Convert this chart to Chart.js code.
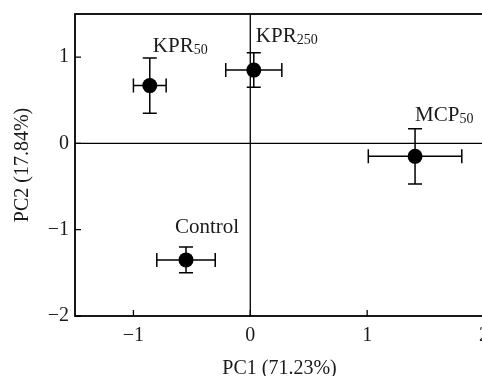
<!DOCTYPE html>
<html>
<head>
<meta charset="utf-8">
<script src="https://cdn.jsdelivr.net/npm/chart.js@4/dist/chart.umd.min.js"></script>
<style>
html,body{margin:0;padding:0;background:#fff;overflow:hidden;}
#wrap{width:482px;height:376px;overflow:hidden;position:relative;}
canvas{display:block;}
</style>
</head>
<body>
<div id="wrap"><canvas id="c" width="500" height="376" style="width:500px;height:376px"></canvas></div>
<script>
// ---- data ----
const groupNames = ['KPR', 'KPR', 'MCP', 'Control'];
const groupSubs  = ['50', '250', '50', ''];
const pc1    = [-0.86, 0.03, 1.41, -0.55];
const pc2    = [0.67, 0.85, -0.15, -1.35];
const pc1Err = [0.14, 0.24, 0.40, 0.25];
const pc2Err = [0.32, 0.20, 0.32, 0.15];
const xTicks = [-1, 0, 1, 2];
const yTicks = [-2, -1, 0, 1];
const xTitle = 'PC1 (71.23%)';
const yTitle = 'PC2 (17.84%)';

// label offsets (px) relative to point: [dx, dy of baseline]
const labelOffsets = [[3, -34], [2, -28], [0, -35], [-11, -27]];

const FONT = "'Liberation Serif', 'Times New Roman', serif";
const TEXT = '#1a1a1a';

const points = pc1.map((x, i) => ({x: x, y: pc2[i]}));

const framePlugin = {
  id: 'frame',
  beforeDatasetsDraw(chart) {
    const {ctx, chartArea: a, scales: {x, y}} = chart;
    ctx.save();
    ctx.strokeStyle = '#000';
    ctx.lineWidth = 1.3;
    const x0 = x.getPixelForValue(0), y0 = y.getPixelForValue(0);
    ctx.beginPath();
    ctx.moveTo(x0, a.top); ctx.lineTo(x0, a.bottom);
    ctx.moveTo(a.left, y0); ctx.lineTo(a.right, y0);
    ctx.stroke();
    ctx.lineWidth = 1.8;
    ctx.strokeRect(a.left, a.top, a.right - a.left, a.bottom - a.top);
    ctx.lineWidth = 1.3;
    ctx.beginPath();
    xTicks.forEach(v => { const p = x.getPixelForValue(v); ctx.moveTo(p, a.bottom); ctx.lineTo(p, a.bottom - 6); });
    yTicks.forEach(v => { const p = y.getPixelForValue(v); ctx.moveTo(a.left, p); ctx.lineTo(a.left + 6, p); });
    ctx.stroke();
    ctx.lineWidth = 1.5;
    const cap = 7;
    ctx.beginPath();
    pc1.forEach((v, i) => {
      const px = x.getPixelForValue(v), py = y.getPixelForValue(pc2[i]);
      const xl = x.getPixelForValue(v - pc1Err[i]), xr = x.getPixelForValue(v + pc1Err[i]);
      const yt = y.getPixelForValue(pc2[i] + pc2Err[i]), yb = y.getPixelForValue(pc2[i] - pc2Err[i]);
      ctx.moveTo(xl, py); ctx.lineTo(xr, py);
      ctx.moveTo(xl, py - cap); ctx.lineTo(xl, py + cap);
      ctx.moveTo(xr, py - cap); ctx.lineTo(xr, py + cap);
      ctx.moveTo(px, yt); ctx.lineTo(px, yb);
      ctx.moveTo(px - cap, yt); ctx.lineTo(px + cap, yt);
      ctx.moveTo(px - cap, yb); ctx.lineTo(px + cap, yb);
    });
    ctx.stroke();
    ctx.restore();
  },
  afterDatasetsDraw(chart) {
    const {ctx, scales: {x, y}} = chart;
    ctx.save();
    ctx.fillStyle = TEXT;
    ctx.textBaseline = 'alphabetic';
    ctx.textAlign = 'left';
    groupNames.forEach((name, i) => {
      const px = x.getPixelForValue(pc1[i]) + labelOffsets[i][0];
      const py = y.getPixelForValue(pc2[i]) + labelOffsets[i][1];
      ctx.font = '21px ' + FONT;
      ctx.fillText(name, px, py);
      const w = ctx.measureText(name).width;
      if (groupSubs[i]) {
        ctx.font = '14px ' + FONT;
        ctx.fillText(groupSubs[i], px + w, py + 2);
      }
    });
    ctx.restore();
  }
};

new Chart(document.getElementById('c'), {
  type: 'scatter',
  data: {
    datasets: [{
      data: points,
      pointRadius: 7.5,
      pointHoverRadius: 7.5,
      pointBackgroundColor: '#000',
      pointBorderColor: '#000',
      pointBorderWidth: 0
    }]
  },
  options: {
    responsive: false,
    animation: false,
    devicePixelRatio: 1,
    events: [],
    layout: {padding: {left: 0, top: 14, right: 16, bottom: 0}},
    plugins: {legend: {display: false}, tooltip: {enabled: false}},
    scales: {
      x: {
        type: 'linear', min: -1.5, max: 2,
        afterFit(s) { s.height = 60; s.paddingLeft = 0; s.paddingRight = 0; },
        grid: {display: false, drawTicks: false},
        border: {display: false},
        ticks: {
          stepSize: 1, includeBounds: false, padding: 10,
          color: TEXT, font: {family: FONT, size: 20, lineHeight: 1},
          callback: v => (v < 0 ? '\u2212' + Math.abs(v) : String(v))
        },
        title: {display: true, text: xTitle, color: TEXT, font: {family: FONT, size: 20, lineHeight: 1}, padding: {top: 0, bottom: -3}}
      },
      y: {
        type: 'linear', min: -2, max: 1.5,
        afterFit(s) { s.width = 75; s.paddingTop = 0; s.paddingBottom = 0; },
        grid: {display: false, drawTicks: false},
        border: {display: false},
        ticks: {
          stepSize: 1, includeBounds: false, padding: 6,
          color: TEXT, font: {family: FONT, size: 20, lineHeight: 1},
          callback: v => (v < 0 ? '\u2212' + Math.abs(v) : String(v))
        },
        title: {display: true, text: yTitle, color: TEXT, font: {family: FONT, size: 20, lineHeight: 1.2}, padding: {top: 11, bottom: 0}}
      }
    }
  },
  plugins: [framePlugin]
});
</script>
</body>
</html>
